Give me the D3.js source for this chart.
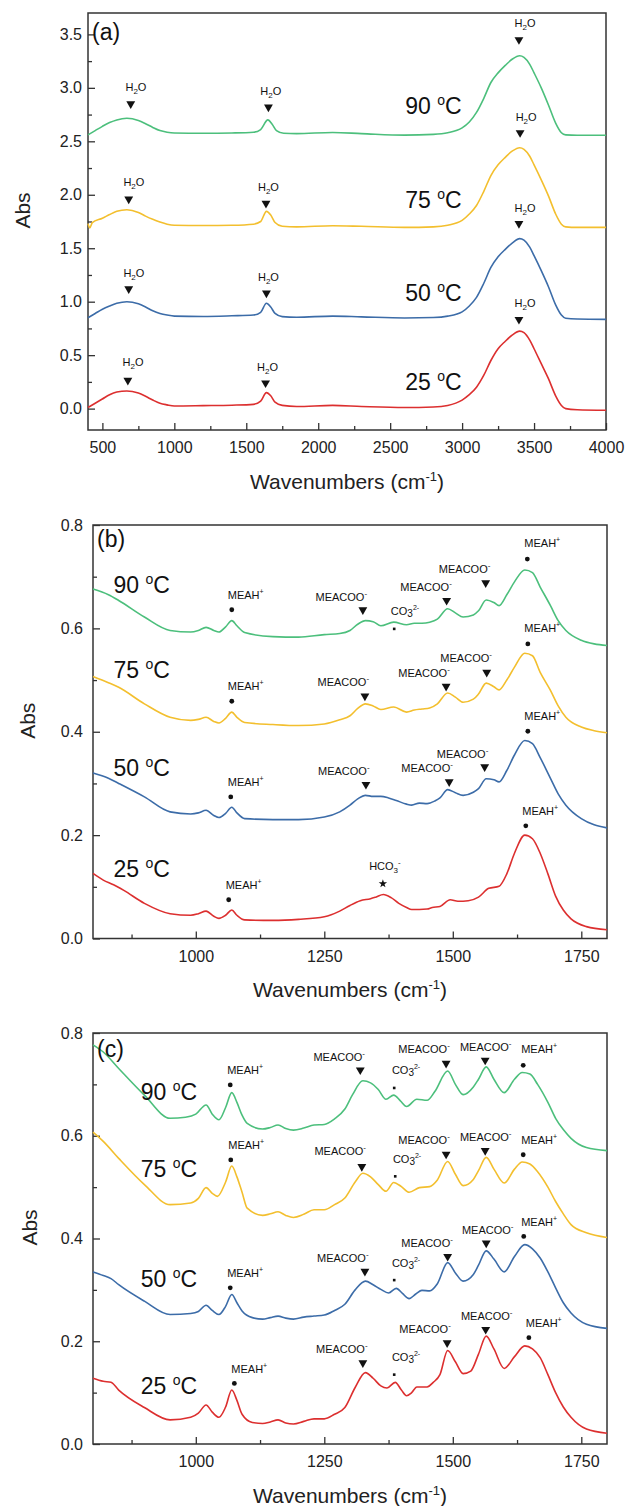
<!DOCTYPE html>
<html>
<head>
<meta charset="utf-8">
<script src="https://cdn.jsdelivr.net/npm/d3@7"></script>
<style>
  body { margin: 0; background: #fff; }
  svg { font-family: "Liberation Sans", Arial, sans-serif; }
</style>
</head>
<body>
<script>
// ---------- data ----------
const temps = ["25", "50", "75", "90"];
const colors = ["#dc2f2f", "#3c6ca8", "#f3bf2e", "#4cbf7c"];

// panel (a): full range spectra
const a25 = [[400,0.01],[450,0.05],[500,0.09],[550,0.13],[600,0.155],[670,0.165],[750,0.145],[800,0.115],[850,0.08],[900,0.05],[950,0.035],[1000,0.025],[1200,0.028],[1400,0.032],[1550,0.04],[1600,0.07],[1640,0.15],[1670,0.12],[1700,0.06],[1750,0.03],[1850,0.02],[2100,0.03],[2300,0.02],[2600,0.01],[2800,0.015],[2900,0.03],[3000,0.08],[3050,0.13],[3100,0.2],[3150,0.31],[3200,0.45],[3250,0.56],[3300,0.63],[3350,0.69],[3400,0.725],[3430,0.71],[3470,0.64],[3500,0.56],[3550,0.42],[3600,0.28],[3650,0.12],[3690,0.03],[3720,0.0],[3800,-0.01],[4000,-0.015]];
const a50 = [[400,0.85],[450,0.89],[500,0.93],[550,0.96],[600,0.985],[670,1.0],[750,0.98],[800,0.95],[850,0.915],[900,0.89],[950,0.875],[1000,0.865],[1200,0.862],[1400,0.868],[1550,0.875],[1600,0.9],[1640,0.985],[1670,0.95],[1700,0.89],[1750,0.86],[1850,0.855],[2100,0.865],[2300,0.858],[2600,0.848],[2800,0.852],[2900,0.865],[3000,0.905],[3050,0.96],[3100,1.04],[3150,1.17],[3200,1.32],[3250,1.42],[3300,1.49],[3350,1.55],[3400,1.59],[3430,1.575],[3470,1.51],[3500,1.43],[3550,1.29],[3600,1.14],[3650,0.97],[3690,0.875],[3720,0.845],[3800,0.838],[4000,0.835]];
const a75 = [[400,1.73],[412,1.69],[430,1.74],[500,1.78],[550,1.815],[600,1.845],[670,1.86],[750,1.835],[800,1.80],[850,1.77],[900,1.745],[950,1.725],[1000,1.715],[1200,1.712],[1400,1.715],[1550,1.725],[1600,1.75],[1640,1.845],[1670,1.81],[1700,1.74],[1750,1.705],[1850,1.70],[2100,1.71],[2300,1.705],[2600,1.695],[2800,1.70],[2900,1.715],[3000,1.76],[3050,1.82],[3100,1.90],[3150,2.03],[3200,2.18],[3250,2.28],[3300,2.35],[3350,2.41],[3400,2.44],[3430,2.425],[3470,2.36],[3500,2.28],[3550,2.14],[3600,1.99],[3650,1.82],[3690,1.725],[3720,1.70],[3800,1.695],[4000,1.695]];
const a90 = [[400,2.56],[450,2.6],[500,2.64],[550,2.675],[600,2.70],[670,2.715],[750,2.695],[800,2.665],[850,2.63],[900,2.6],[950,2.585],[1000,2.578],[1200,2.575],[1400,2.578],[1550,2.585],[1600,2.61],[1650,2.70],[1680,2.66],[1710,2.6],[1760,2.575],[1850,2.572],[2100,2.582],[2300,2.572],[2600,2.558],[2800,2.565],[2900,2.58],[3000,2.625],[3050,2.68],[3100,2.77],[3150,2.9],[3200,3.05],[3250,3.14],[3300,3.21],[3350,3.27],[3400,3.30],[3430,3.285],[3470,3.22],[3500,3.14],[3550,3.0],[3600,2.84],[3650,2.67],[3690,2.58],[3720,2.56],[3800,2.556],[4000,2.556]];

// panel (b)
const b25 = [[800,0.126],[820,0.113],[840,0.104],[860,0.093],[900,0.068],[950,0.048],[990,0.045],[1005,0.048],[1020,0.053],[1035,0.043],[1045,0.039],[1058,0.045],[1070,0.055],[1080,0.045],[1095,0.036],[1150,0.035],[1200,0.037],[1250,0.042],[1280,0.053],[1300,0.064],[1320,0.073],[1340,0.077],[1350,0.08],[1365,0.085],[1380,0.079],[1395,0.068],[1410,0.06],[1420,0.056],[1450,0.057],[1460,0.06],[1475,0.062],[1495,0.075],[1510,0.072],[1530,0.073],[1550,0.08],[1570,0.097],[1590,0.101],[1605,0.125],[1620,0.165],[1640,0.20],[1655,0.193],[1670,0.165],[1685,0.125],[1700,0.082],[1715,0.055],[1730,0.038],[1760,0.023],[1800,0.017]];
const b50 = [[800,0.32],[830,0.31],[850,0.30],[900,0.274],[950,0.245],[990,0.241],[1005,0.243],[1020,0.248],[1035,0.238],[1045,0.234],[1058,0.242],[1070,0.254],[1080,0.243],[1095,0.232],[1150,0.23],[1200,0.23],[1250,0.235],[1280,0.245],[1300,0.258],[1315,0.27],[1330,0.277],[1345,0.275],[1360,0.275],[1375,0.272],[1390,0.267],[1410,0.26],[1420,0.258],[1435,0.262],[1450,0.261],[1465,0.266],[1475,0.272],[1490,0.288],[1505,0.282],[1520,0.277],[1540,0.283],[1550,0.29],[1565,0.309],[1580,0.307],[1590,0.303],[1605,0.325],[1620,0.355],[1640,0.383],[1655,0.377],[1670,0.35],[1690,0.31],[1705,0.28],[1720,0.258],[1750,0.232],[1775,0.22],[1800,0.214]];
const b75 = [[800,0.507],[830,0.495],[850,0.486],[900,0.454],[950,0.428],[990,0.422],[1005,0.424],[1020,0.428],[1035,0.42],[1045,0.417],[1058,0.426],[1070,0.438],[1080,0.428],[1095,0.418],[1150,0.414],[1200,0.412],[1250,0.415],[1280,0.423],[1300,0.431],[1315,0.445],[1330,0.454],[1345,0.45],[1360,0.443],[1385,0.448],[1410,0.438],[1425,0.442],[1440,0.444],[1455,0.446],[1470,0.454],[1490,0.475],[1505,0.467],[1520,0.457],[1540,0.463],[1550,0.473],[1565,0.494],[1580,0.487],[1590,0.481],[1605,0.5],[1620,0.525],[1640,0.552],[1655,0.547],[1670,0.515],[1690,0.48],[1705,0.45],[1720,0.428],[1750,0.409],[1775,0.402],[1800,0.398]];
const b90 = [[800,0.676],[830,0.665],[850,0.654],[900,0.622],[950,0.596],[990,0.593],[1005,0.596],[1020,0.602],[1035,0.596],[1045,0.593],[1058,0.603],[1070,0.615],[1080,0.605],[1095,0.592],[1150,0.584],[1200,0.583],[1250,0.588],[1280,0.59],[1300,0.596],[1315,0.608],[1330,0.615],[1345,0.613],[1360,0.605],[1385,0.612],[1410,0.607],[1425,0.61],[1440,0.61],[1455,0.612],[1470,0.618],[1490,0.638],[1505,0.63],[1520,0.622],[1540,0.626],[1550,0.634],[1565,0.655],[1580,0.65],[1590,0.644],[1605,0.665],[1620,0.69],[1640,0.713],[1655,0.708],[1670,0.68],[1690,0.644],[1705,0.615],[1720,0.596],[1750,0.577],[1775,0.57],[1800,0.567]];

// panel (c)
const c25 = [[800,0.128],[820,0.122],[835,0.12],[850,0.105],[900,0.071],[950,0.047],[990,0.052],[1005,0.06],[1020,0.076],[1032,0.062],[1045,0.052],[1058,0.072],[1070,0.105],[1080,0.085],[1090,0.058],[1110,0.042],[1130,0.04],[1145,0.043],[1160,0.047],[1175,0.041],[1190,0.039],[1210,0.044],[1230,0.049],[1250,0.049],[1270,0.058],[1290,0.071],[1310,0.11],[1330,0.139],[1345,0.128],[1360,0.113],[1372,0.109],[1388,0.12],[1400,0.105],[1410,0.094],[1420,0.1],[1430,0.111],[1450,0.111],[1462,0.12],[1475,0.135],[1490,0.182],[1505,0.16],[1520,0.137],[1535,0.142],[1550,0.175],[1565,0.21],[1580,0.185],[1600,0.147],[1620,0.17],[1640,0.191],[1655,0.185],[1670,0.168],[1685,0.135],[1700,0.10],[1715,0.072],[1730,0.052],[1760,0.029],[1800,0.021]];
const c50 = [[800,0.335],[820,0.328],[835,0.322],[850,0.31],[900,0.278],[950,0.252],[990,0.254],[1005,0.258],[1020,0.27],[1032,0.26],[1045,0.252],[1058,0.268],[1070,0.291],[1080,0.275],[1090,0.259],[1110,0.246],[1130,0.243],[1145,0.246],[1160,0.249],[1175,0.245],[1190,0.243],[1210,0.247],[1230,0.249],[1250,0.251],[1270,0.26],[1290,0.272],[1310,0.3],[1330,0.317],[1345,0.31],[1360,0.301],[1375,0.294],[1390,0.303],[1402,0.293],[1415,0.283],[1428,0.292],[1440,0.299],[1455,0.298],[1470,0.312],[1490,0.353],[1505,0.333],[1520,0.317],[1540,0.33],[1550,0.348],[1565,0.376],[1580,0.36],[1600,0.335],[1620,0.365],[1640,0.388],[1655,0.38],[1670,0.362],[1685,0.335],[1700,0.304],[1715,0.275],[1730,0.255],[1760,0.233],[1800,0.225]];
const c75 = [[800,0.607],[820,0.589],[850,0.556],[900,0.505],[950,0.466],[990,0.469],[1005,0.478],[1020,0.499],[1032,0.488],[1042,0.482],[1058,0.51],[1070,0.541],[1080,0.52],[1090,0.49],[1100,0.459],[1130,0.445],[1145,0.448],[1160,0.452],[1175,0.445],[1190,0.441],[1210,0.447],[1230,0.456],[1250,0.456],[1270,0.466],[1290,0.479],[1310,0.51],[1325,0.527],[1340,0.52],[1355,0.505],[1370,0.492],[1385,0.509],[1400,0.501],[1415,0.49],[1435,0.499],[1455,0.501],[1470,0.514],[1490,0.55],[1505,0.525],[1520,0.503],[1540,0.515],[1550,0.532],[1565,0.558],[1580,0.535],[1600,0.508],[1620,0.535],[1635,0.549],[1650,0.545],[1665,0.53],[1685,0.5],[1700,0.472],[1715,0.448],[1730,0.427],[1760,0.411],[1800,0.402]];
const c90 = [[800,0.777],[820,0.763],[850,0.731],[900,0.679],[950,0.634],[980,0.636],[1000,0.642],[1020,0.66],[1032,0.642],[1045,0.631],[1058,0.655],[1070,0.684],[1080,0.665],[1090,0.64],[1100,0.624],[1130,0.613],[1145,0.616],[1160,0.621],[1175,0.614],[1190,0.611],[1210,0.615],[1230,0.621],[1250,0.622],[1270,0.633],[1290,0.652],[1305,0.68],[1325,0.707],[1340,0.703],[1355,0.69],[1370,0.671],[1385,0.679],[1398,0.668],[1410,0.657],[1430,0.671],[1450,0.669],[1465,0.686],[1490,0.726],[1505,0.7],[1520,0.68],[1540,0.695],[1550,0.71],[1565,0.734],[1580,0.71],[1600,0.684],[1620,0.71],[1635,0.723],[1650,0.72],[1665,0.7],[1685,0.665],[1700,0.634],[1715,0.612],[1730,0.595],[1760,0.577],[1800,0.571]];

// band annotations: [kind, marker wn, marker abs, label wn, label abs]
const annA = [
  ["H2O",677,0.265,713,0.435],["H2O",1634,0.24,1648,0.39],["H2O",3395,0.834,3437,0.99],
  ["H2O",683,1.12,719,1.27],["H2O",1640,1.08,1654,1.23],["H2O",3395,1.73,3437,1.875],
  ["H2O",683,1.96,719,2.115],["H2O",1637,1.92,1654,2.07],["H2O",3403,2.58,3445,2.73],
  ["H2O",697,2.85,733,3.01],["H2O",1654,2.82,1670,2.975],["H2O",3395,3.45,3437,3.61]
];
const annB = [
  ["MEAH",1070,0.636,1097,0.665],["MEACOO",1325,0.636,1283,0.661],["CO3",1386,0.599,1407,0.634],
  ["MEACOO",1488,0.654,1448,0.68],["MEACOO",1564,0.688,1523,0.714],["MEAH",1645,0.734,1674,0.765],
  ["MEAH",1070,0.459,1097,0.488],["MEACOO",1329,0.469,1287,0.496],["MEACOO",1487,0.488,1444,0.514],
  ["MEACOO",1566,0.515,1526,0.542],["MEAH",1646,0.57,1674,0.6],
  ["MEAH",1068,0.274,1097,0.303],["MEACOO",1331,0.298,1288,0.324],["MEACOO",1493,0.303,1450,0.33],
  ["MEACOO",1562,0.332,1519,0.357],["MEAH",1646,0.401,1674,0.43],
  ["MEAH",1064,0.075,1093,0.103],["HCO3",1364,0.106,1368,0.14],["MEAH",1642,0.218,1670,0.247]
];
const annC = [
  ["MEAH",1067,0.699,1096,0.728],["MEACOO",1320,0.728,1279,0.754],["CO3",1386,0.693,1409,0.728],
  ["MEACOO",1487,0.741,1444,0.768],["MEACOO",1563,0.747,1564,0.773],["MEAH",1637,0.737,1668,0.768],
  ["MEAH",1068,0.553,1098,0.582],["MEACOO",1323,0.54,1281,0.57],["CO3",1388,0.521,1411,0.555],
  ["MEACOO",1487,0.564,1444,0.592],["MEACOO",1563,0.571,1564,0.598],["MEAH",1637,0.563,1668,0.592],
  ["MEAH",1067,0.304,1096,0.333],["MEACOO",1329,0.336,1286,0.362],["CO3",1386,0.319,1409,0.353],
  ["MEACOO",1490,0.365,1450,0.391],["MEACOO",1565,0.391,1568,0.417],["MEAH",1638,0.404,1668,0.433],
  ["MEAH",1075,0.118,1104,0.146],["MEACOO",1325,0.158,1284,0.184],["CO3",1386,0.135,1409,0.169],
  ["MEACOO",1489,0.197,1446,0.223],["MEACOO",1564,0.223,1566,0.249],["MEAH",1648,0.207,1677,0.236]
];

// temperature label positions (start wn, abs) in order 25,50,75,90
const tempA = [[2605,0.25],[2605,1.08],[2605,1.95],[2605,2.83]];
const tempB = [[840,0.135],[840,0.33],[840,0.52],[840,0.683]];
const tempC = [[893,0.113],[893,0.322],[893,0.536],[893,0.686]];

// ticks
const xMajorA = [500,1000,1500,2000,2500,3000,3500,4000];
const xMinorA = [750,1250,1750,2250,2750,3250,3750];
const yMajorA = [0,0.5,1,1.5,2,2.5,3,3.5];
const yMinorA = [0.25,0.75,1.25,1.75,2.25,2.75,3.25];
const xMajorBC = [1000,1250,1500,1750];
const xMinorBC = [875,1125,1375,1625];
const yMajorBC = [0,0.2,0.4,0.6,0.8];
const yMinorBC = [0.1,0.3,0.5,0.7];

// ---------- layout ----------
const W = 626, H = 1506;
const panels = [
  { tag:"(a)", left:88, right:606, top:13, bottom:430, xd:[400,4000], yd:[-0.2,3.7],
    xMajor:xMajorA, xMinor:xMinorA, yMajor:yMajorA, yMinor:yMinorA, yPad:6,
    series:[a25,a50,a75,a90], ann:annA, temp:tempA, tagY:40, titleY:489, absX:30 },
  { tag:"(b)", left:93, right:607, top:525, bottom:938.5, xd:[800,1800], yd:[0,0.8],
    xMajor:xMajorBC, xMinor:xMinorBC, yMajor:yMajorBC, yMinor:yMinorBC, yPad:10,
    series:[b25,b50,b75,b90], ann:annB, temp:tempB, tagY:547, titleY:997, absX:35 },
  { tag:"(c)", left:93, right:607, top:1033, bottom:1444, xd:[800,1800], yd:[0,0.8],
    xMajor:xMajorBC, xMinor:xMinorBC, yMajor:yMajorBC, yMinor:yMinorBC, yPad:10,
    series:[c25,c50,c75,c90], ann:annC, temp:tempC, tagY:1057, titleY:1503, absX:37 }
];

const svg = d3.select("body").append("svg").attr("width", W).attr("height", H);

// text pieces: [text, baseline shift (px, negative = up), font size]
const labelParts = {
  H2O:    [["H",0,11],["2",3,8],["O",0,11]],
  MEAH:   [["MEAH",0,11],["+",-5,7]],
  MEACOO: [["MEACOO",0,11],["-",-5,8]],
  CO3:    [["CO",0,11],["3",2,10],["2-",-5,7]],
  HCO3:   [["HCO",0,11],["3",3,8],["-",-5,8]]
};

function richText(g, parts, x, y, anchor) {
  const t = g.append("text").attr("x", x).attr("y", y).attr("text-anchor", anchor).attr("fill", "#111");
  let prev = 0;
  parts.forEach((p) => {
    t.append("tspan").attr("dy", p[1] - prev).attr("font-size", p[2]).text(p[0]);
    prev = p[1];
  });
  return t;
}

panels.forEach((p) => {
  const x = d3.scaleLinear().domain(p.xd).range([p.left, p.right]);
  const y = d3.scaleLinear().domain(p.yd).range([p.bottom, p.top]);
  const g = svg.append("g");

  // axes, ticks pointing inward
  const gx = g.append("g").attr("transform", "translate(0," + p.bottom + ")");
  gx.call(d3.axisBottom(x).tickValues(p.xMajor).tickSize(-7).tickPadding(12).tickFormat(d3.format("d")));
  gx.append("g").call(d3.axisBottom(x).tickValues(p.xMinor).tickSize(-4).tickFormat(""));

  const gy = g.append("g").attr("transform", "translate(" + p.left + ",0)");
  gy.call(d3.axisLeft(y).tickValues(p.yMajor).tickSize(-7).tickPadding(p.yPad).tickFormat(d3.format(".1f")));
  gy.append("g").call(d3.axisLeft(y).tickValues(p.yMinor).tickSize(-4).tickFormat(""));

  g.selectAll(".domain").remove();
  g.selectAll(".tick line").attr("stroke", "#333").attr("stroke-width", 1.3);
  g.selectAll(".tick text").attr("font-size", 16).attr("fill", "#222")
    .attr("font-family", "'Liberation Sans', Arial, sans-serif");

  g.append("rect")
    .attr("x", p.left).attr("y", p.top)
    .attr("width", p.right - p.left).attr("height", p.bottom - p.top)
    .attr("fill", "none").attr("stroke", "#333").attr("stroke-width", 1.5);

  // spectra
  const line = d3.line().x((d) => x(d[0])).y((d) => y(d[1])).curve(d3.curveMonotoneX);
  g.selectAll(".spec")
    .data(p.series)
    .enter()
    .append("path")
    .attr("class", "spec")
    .attr("d", line)
    .attr("fill", "none")
    .attr("stroke", (d, i) => colors[i])
    .attr("stroke-width", 1.6);

  // band markers + labels
  p.ann.forEach((a) => {
    const mx = x(a[1]), my = y(a[2]);
    if (a[0] === "H2O" || a[0] === "MEACOO") {
      g.append("path").attr("d", d3.symbol(d3.symbolTriangle, 34)())
        .attr("transform", "translate(" + mx + "," + my + ") rotate(180)").attr("fill", "#111");
    } else if (a[0] === "MEAH") {
      g.append("circle").attr("cx", mx).attr("cy", my).attr("r", 2.4).attr("fill", "#111");
    } else if (a[0] === "CO3") {
      g.append("rect").attr("x", mx - 1.3).attr("y", my - 1.3).attr("width", 2.6).attr("height", 2.6).attr("fill", "#111");
    } else if (a[0] === "HCO3") {
      g.append("path").attr("d", d3.symbol(d3.symbolStar, 22)())
        .attr("transform", "translate(" + mx + "," + my + ")").attr("fill", "#111");
    }
    richText(g, labelParts[a[0]], x(a[3]), y(a[4]) + 4, "middle");
  });

  // temperature labels
  p.temp.forEach((t, i) => {
    richText(g, [[temps[i] + " ", 0, 23], ["o", -9, 14], ["C", 0, 23]], x(t[0]), y(t[1]) + 8, "start");
  });

  // panel tag
  g.append("text").attr("x", p.left + 4).attr("y", p.tagY).attr("font-size", 23).attr("fill", "#111").text(p.tag);

  // axis titles
  richText(g, [["Wavenumbers (cm", 0, 21], ["-1", -8, 13], [")", 0, 21]],
    (p.left + p.right) / 2, p.titleY, "middle").attr("fill", "#222");
  g.append("text")
    .attr("transform", "translate(" + p.absX + "," + ((p.top + p.bottom) / 2 - 11) + ") rotate(-90)")
    .attr("text-anchor", "middle").attr("font-size", 21).attr("fill", "#222").text("Abs");
});
</script>
</body>
</html>
